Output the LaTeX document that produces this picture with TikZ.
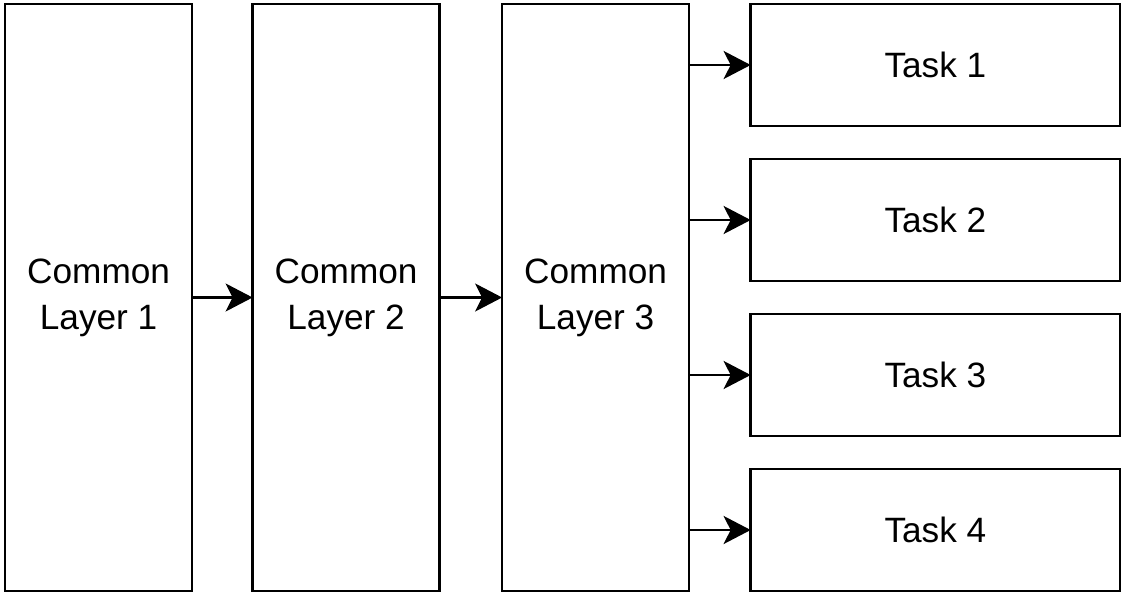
\documentclass[tikz,border=0pt]{standalone}
\usepackage{fontspec}
\setmainfont{Liberation Sans}
\usetikzlibrary{arrows.meta}
\begin{document}
\begin{tikzpicture}[x=1pt,y=-1pt,
  box/.style={draw, line width=2.6pt, inner sep=0pt, outer sep=0pt,
    align=center, font=\fontsize{35.2}{46}\selectfont},
  layerbox/.style={box, minimum width=187pt, minimum height=587pt},
  taskbox/.style={box, minimum width=369.5pt, minimum height=122pt},
  link/.style={line width=2.4pt, -{Stealth[length=27pt, width=28pt, inset=7pt]}}
]
\useasboundingbox (0,0) rectangle (1122,594);

% shared layers
\node[layerbox] (l1) at (98.6,297.5) {Common\\Layer 1};
\node[layerbox] (l2) at (346.1,297.5) {Common\\Layer 2};
\node[layerbox] (l3) at (595.6,297.5) {Common\\Layer 3};

% task-specific heads
\node[taskbox] (t1) at (935.4,65) {Task 1};
\node[taskbox] (t2) at (935.4,220) {Task 2};
\node[taskbox] (t3) at (935.4,375) {Task 3};
\node[taskbox] (t4) at (935.4,530) {Task 4};

\draw[link] (l1.east) -- (l2.west);
\draw[link] (l2.east) -- (l3.west);
\foreach \t in {t1,t2,t3,t4}
  \draw[link] (l3.east |- \t.west) -- (\t.west);
\end{tikzpicture}
\end{document}
